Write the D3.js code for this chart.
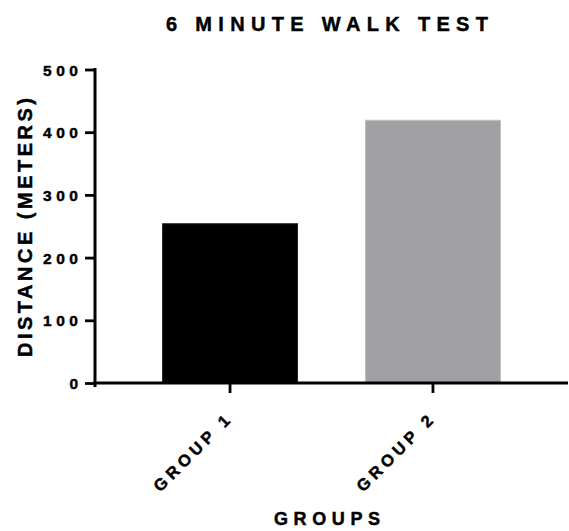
<!DOCTYPE html>
<html><head><meta charset="utf-8">
<script src="https://cdn.jsdelivr.net/npm/d3@7"></script>
<style>body{margin:0;background:#fff}svg{display:block}text{font-family:"Liberation Sans",Arial,sans-serif;font-weight:bold;fill:#000;stroke:#000;stroke-width:0.45px}</style>
</head><body><svg id="c" width="569" height="531"></svg>
<script>
const categories = ["GROUP 1", "GROUP 2"];
const values = [254, 419];
const colors = ["#000000", "#a1a0a5"];
const yTicks = [0, 100, 200, 300, 400, 500];
const title = "6 MINUTE WALK TEST";
const xTitle = "GROUPS";
const yTitle = "DISTANCE (METERS)";

const svg = d3.select("#c");
const x = d3.scaleBand().domain(categories).range([95, 568]).paddingInner(0.335).paddingOuter(0.333);
const y = d3.scaleLinear().domain([0, 500]).range([383, 69.5]);

// fit letter-spacing so the visible run of glyphs spans `target` px; returns resulting width
function fit(sel, target) {
  const node = sel.node();
  sel.style("letter-spacing", "0px");
  const nat = node.getComputedTextLength();
  const n = node.textContent.length;
  const s = n > 1 ? (target - nat) / (n - 1) : 0;
  sel.style("letter-spacing", s + "px");
  return n > 1 ? target : nat;
}

svg.selectAll("rect.bar").data(values).join("rect")
  .attr("class","bar")
  .attr("x",(d,i)=>x(categories[i]))
  .attr("width",x.bandwidth())
  .attr("y",d=>y(d))
  .attr("height",d=>y(0)-y(d))
  .attr("fill",(d,i)=>colors[i])
  .attr("stroke",(d,i)=>i===0?"#222":"#bdbdc1")
  .attr("stroke-width",1);

const yAxis = svg.append("g").attr("transform","translate(95,0)")
  .call(d3.axisLeft(y).tickValues(yTicks).tickSize(10).tickSizeOuter(0));
yAxis.select(".domain").attr("stroke-width",3).attr("d","M0,68V387");
yAxis.selectAll(".tick line").attr("stroke-width",2.8);
yAxis.selectAll(".tick text").each(function(){
  const t = d3.select(this).style("font-size","15.5px").attr("text-anchor","start").attr("dy","0.36em");
  const n = this.textContent.length;
  const w = fit(t, n === 1 ? 0 : 35);
  t.attr("x", 78 - 95 - w);
});

const xAxis = svg.append("g").attr("transform","translate(0,383)")
  .call(d3.axisBottom(x).tickSize(10).tickSizeOuter(0));
xAxis.select(".domain").attr("stroke-width",3).attr("d","M93.5,0H568");
xAxis.selectAll(".tick line").attr("stroke-width",2.8);
xAxis.selectAll(".tick text").each(function(){
  const t = d3.select(this).style("font-size","16.5px").attr("text-anchor","start")
    .attr("dy","0").attr("y",0);
  const w = fit(t, 100);
  t.attr("x", -w).attr("transform","translate(1,39) rotate(-45)");
});

const tt = svg.append("text").attr("x",166).attr("y",31).style("font-size","20px").text(title);
fit(tt, 322);
const xt = svg.append("text").attr("x",274).attr("y",525).style("font-size","18px").text(xTitle);
fit(xt, 106);
const yt = svg.append("text").attr("transform","translate(32,357) rotate(-90)").attr("x",0).attr("y",0)
  .style("font-size","20px").text(yTitle);
fit(yt, 259);
</script></body></html>
